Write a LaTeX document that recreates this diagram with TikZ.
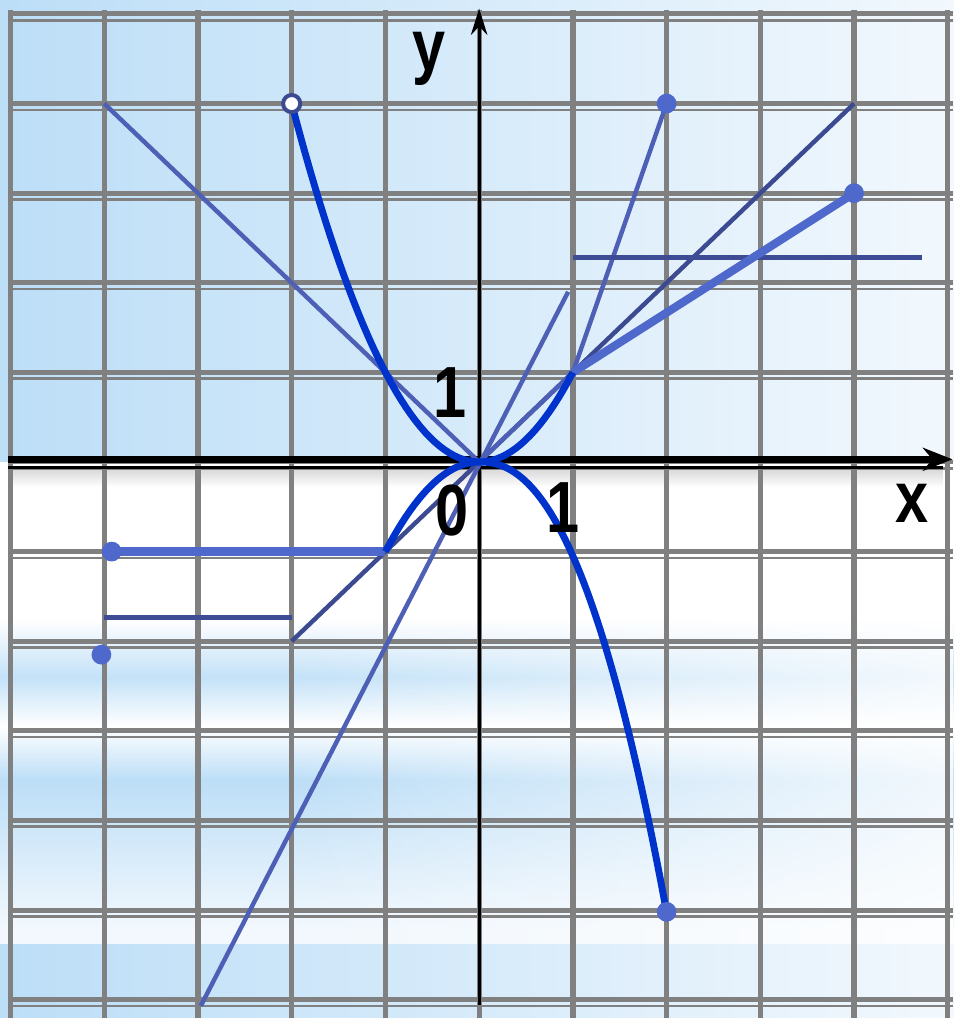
\documentclass[tikz,border=0pt]{standalone}
\usepackage{fontspec}
\setmainfont{Liberation Sans}
\usetikzlibrary{arrows.meta,fadings}
\definecolor{GridGray}{RGB}{128,128,128}
\definecolor{CurveBlue}{RGB}{0,51,204}
\definecolor{LineBlue}{RGB}{78,96,182}
\definecolor{DarkLine}{RGB}{60,74,145}
\definecolor{ThickBlue}{RGB}{78,104,204}
\definecolor{SkyDeep}{RGB}{188,222,247}
\definecolor{SkyBand}{RGB}{196,226,248}
\definecolor{SkyPale}{RGB}{242,248,253}
\tikzfading[name=fadeleft,left color=transparent!100,right color=transparent!0]
\tikzset{lbl/.style={font=\fontsize{22}{24}\selectfont\bfseries,inner sep=0pt,xscale=.82,transform shape},
  fnline/.style={CurveBlue,line width=2.1pt},
  segline/.style={LineBlue,line width=1.35pt},
  thickseg/.style={ThickBlue,line width=2.5pt},
  dotpt/.style={fill=ThickBlue}}

\begin{document}
\begin{tikzpicture}[x=1cm,y=.956cm,>=Stealth]
\useasboundingbox (-5.112,-6.205) rectangle (5.059,5.156);
% background
\shade[left color=SkyDeep,right color=SkyPale] (-5.112,0) rectangle (5.059,5.156);
\fill[white] (-5.112,-6.205) rectangle (5.059,0);
\shade[top color=white,bottom color=SkyBand] (-5.112,-1.75) rectangle (5.059,-2.4);
\shade[top color=SkyBand,bottom color=white] (-5.112,-2.4) rectangle (5.059,-2.95);
\shade[top color=white,bottom color=SkyDeep] (-5.112,-2.95) rectangle (5.059,-3.55);
\shade[top color=SkyDeep,bottom color=SkyPale] (-5.112,-3.55) rectangle (5.059,-5.2);
\fill[SkyPale] (-5.112,-5.2) rectangle (5.059,-5.39);
\fill[white,path fading=fadeleft,fill opacity=.8] (-2,-5.39) rectangle (5.059,-1.6);
\shade[left color=SkyDeep,right color=SkyPale] (-5.112,-6.205) rectangle (5.059,-5.39);
\shade[top color=black!15,bottom color=white] (-5,-.08) rectangle (4.95,-.28);
% grid
\foreach \i in {-5,...,5} \draw[GridGray,line width=1.6pt] (\i,-6.205) -- (\i,5.04);
\foreach \j in {-6,...,5} {\draw[GridGray,line width=1.5pt] (-5.03,\j) -- (5.059,\j);
  \draw[GridGray,line width=.8pt] (-5.03,\j-.07) -- (5.059,\j-.07);}
% axes
\draw[line width=2.2pt,-{Stealth[length=9pt,width=7pt]}] (-5.03,.03) -- (5.05,.03);
\draw[line width=.8pt] (-5.03,-.06) -- (4.95,-.06);
\draw[line width=1pt,-{Stealth[length=8pt,width=5pt]}] (0,-6.06) -- (0,5.06);
% straight pieces
\draw[segline] (-4,4) -- (0,0);
\draw[DarkLine,line width=1.35pt] (-2,-2) -- (4,4);
\draw[segline] (-2.97,-6.07) -- (.95,1.9);
\draw[segline] (0,0) -- (1,1) -- (2,4);
\draw[DarkLine!90!LineBlue,line width=1.5pt] (1,2.28) -- (4.72,2.28);
\draw[DarkLine!90!LineBlue,line width=1.5pt] (-4,-1.74) -- (-2,-1.74);
\draw[thickseg] (1,1) -- (4,3);
\draw[thickseg] (-1,-1) -- (-3.92,-1);
% curves
\draw[fnline] plot[domain=-2:1,samples=60] (\x,{\x*\x});
\draw[fnline] plot[domain=-1:0,samples=30] (\x,{-\x*\x});
\draw[fnline] (0,0) -- plot[domain=.01:2,samples=60] (\x,{-1.05*pow(\x,2.26)});
% end points
\fill[dotpt] (2,4) circle (3pt); \fill[dotpt] (4,3) circle (3pt);
\fill[dotpt] (-3.92,-1) circle (3pt); \fill[dotpt] (-4.03,-2.15) circle (3pt);
\fill[dotpt] (2,-5.02) circle (3pt);
\filldraw[fill=white,draw=DarkLine,line width=1.2pt] (-2,4) circle (2.6pt);
% labels
\node[lbl] (lbly) at (-.54,4.5) {y};
\node[lbl] (lblx) at (4.62,-.46) {x};
\node[lbl] (lblone) at (-.31,.78) {1};
\node[lbl] (lblzero) at (-.29,-.54) {0};
\node[lbl] (lblonex) at (.89,-.51) {1};
\end{tikzpicture}
\end{document}
